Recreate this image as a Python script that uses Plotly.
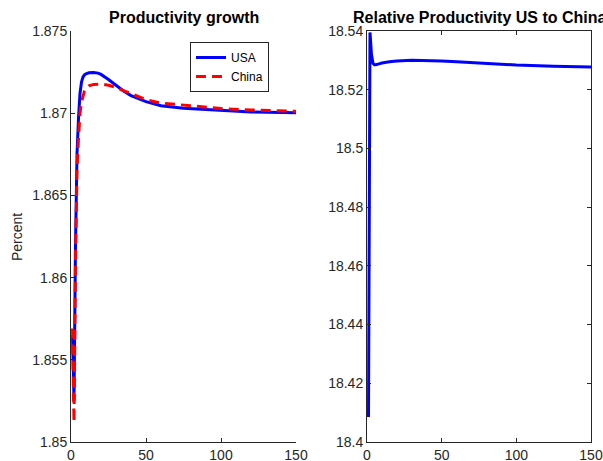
import plotly.graph_objects as go

# ---- data ----
t_growth = [1, 2, 3, 4, 5, 6, 7, 8, 9, 10, 12, 15, 18, 20, 25, 30, 35, 40, 50, 60, 75, 90, 100, 120, 150]
usa_growth = [1.8565, 1.8525, 1.8620, 1.8675, 1.8697, 1.8712, 1.8719, 1.8722, 1.87233, 1.87240, 1.87246,
              1.87248, 1.87244, 1.87236, 1.87205, 1.87168, 1.87135, 1.87107, 1.87070, 1.87045, 1.87030,
              1.87022, 1.87017, 1.87008, 1.87003]
china_growth = [1.8569, 1.8512, 1.8610, 1.8665, 1.8685, 1.8700, 1.8707, 1.8711, 1.87135, 1.87150, 1.87167,
                1.87175, 1.87178, 1.87177, 1.87170, 1.87157, 1.87138, 1.87120, 1.87082, 1.87062, 1.87050,
                1.87036, 1.87028, 1.87020, 1.87012]

t_rel = [1, 2, 3, 4, 5, 6, 8, 10, 15, 20, 30, 40, 50, 60, 75, 100, 125, 150]
rel_prod = [18.4085, 18.5395, 18.5320, 18.5290, 18.5285, 18.5285, 18.5288, 18.5291, 18.5295, 18.5298,
            18.5300, 18.5300, 18.5298, 18.5295, 18.5290, 18.5284, 18.5280, 18.5277]

x_ticks = [0, 50, 100, 150]
y1_ticks = [1.85, 1.855, 1.86, 1.865, 1.87, 1.875]
y1_labels = ["1.85", "1.855", "1.86", "1.865", "1.87", "1.875"]
y2_ticks = [18.4, 18.42, 18.44, 18.46, 18.48, 18.5, 18.52, 18.54]
y2_labels = ["18.4", "18.42", "18.44", "18.46", "18.48", "18.5", "18.52", "18.54"]

FONT = "Liberation Sans, Arial, Helvetica, sans-serif"
AX = "#262626"

fig = go.Figure()
fig.add_trace(go.Scatter(x=t_growth, y=usa_growth, mode="lines", name="USA",
                         line=dict(color="#0000FF", width=3), xaxis="x", yaxis="y"))
fig.add_trace(go.Scatter(x=t_growth, y=china_growth, mode="lines", name="China",
                         line=dict(color="#FF0000", width=3, dash="10px,6px"), xaxis="x", yaxis="y"))
fig.add_trace(go.Scatter(x=t_rel, y=rel_prod, mode="lines", name="rel", showlegend=False,
                         line=dict(color="#0000FF", width=3), xaxis="x2", yaxis="y2"))

W, H = 603, 461
def px_x(p): return p / W
def px_y(p): return (H - p) / H

common_axis = dict(showgrid=False, zeroline=False, showline=True, linecolor=AX, linewidth=1,
                   ticks="inside", ticklen=4, tickcolor=AX, tickwidth=1, automargin=False,
                   tickfont=dict(family=FONT, size=14, color=AX))

fig.update_layout(
    template="none",
    width=W, height=H,
    margin=dict(l=0, r=0, t=0, b=0, pad=0),
    paper_bgcolor="white", plot_bgcolor="white",
    xaxis=dict(domain=[px_x(71), px_x(296)], range=[0, 150], tickvals=x_ticks, anchor="y", **common_axis),
    yaxis=dict(domain=[px_y(442), px_y(31)], range=[1.85, 1.875], tickvals=y1_ticks, ticktext=y1_labels,
               anchor="x", **common_axis),
    xaxis2=dict(domain=[px_x(367), px_x(591)], range=[0, 150], tickvals=x_ticks, anchor="y2",
                mirror="ticks", **common_axis),
    yaxis2=dict(domain=[px_y(442), px_y(31)], range=[18.4, 18.54], tickvals=y2_ticks, ticktext=y2_labels,
                anchor="x2", mirror="ticks", **common_axis),
    showlegend=True,
    legend=dict(x=px_x(190), y=px_y(42), xanchor="left", yanchor="top",
                bgcolor="white", bordercolor=AX, borderwidth=1,
                entrywidth=56, entrywidthmode="pixels",
                font=dict(family=FONT, size=12, color="#000000"), tracegroupgap=0),
    annotations=[
        dict(text="<b>Productivity growth</b>", x=px_x(183.5), y=px_y(18), xref="paper", yref="paper",
             xanchor="center", yanchor="middle", showarrow=False,
             font=dict(family=FONT, size=16, color="#000000")),
        dict(text="<b>Relative Productivity US to China</b>", x=px_x(479), y=px_y(18), xref="paper",
             yref="paper", xanchor="center", yanchor="middle", showarrow=False,
             font=dict(family=FONT, size=16, color="#000000")),
        dict(text="Percent", x=px_x(17), y=px_y(237), xref="paper", yref="paper", textangle=-90,
             xanchor="center", yanchor="middle", showarrow=False,
             font=dict(family=FONT, size=14, color=AX)),
    ],
)

fig.write_html("out.html", config={"displayModeBar": False},
               post_script="document.body.style.margin='0';document.body.style.overflow='hidden';")
